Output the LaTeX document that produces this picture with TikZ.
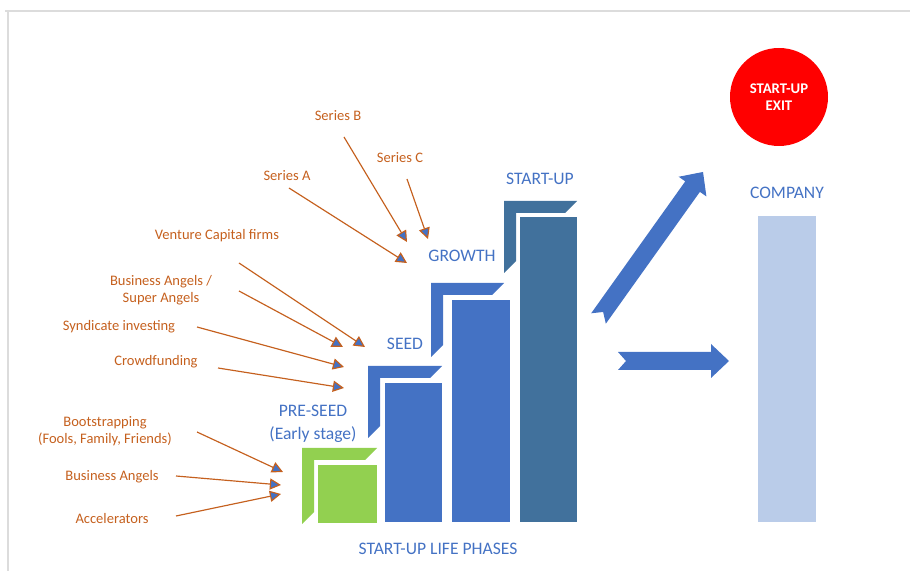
\documentclass[tikz,border=0pt]{standalone}
\usepackage{fontspec}
\setmainfont{Carlito}
\usepackage{xcolor}
\usetikzlibrary{arrows.meta}

\definecolor{fundorange}{RGB}{197,96,30}
\definecolor{phaseblue}{RGB}{68,114,196}
\definecolor{startupblue}{RGB}{65,113,156}
\definecolor{seedgreen}{RGB}{146,208,80}
\definecolor{companyblue}{RGB}{186,204,233}
\definecolor{framegrey}{RGB}{220,220,220}

% half frame in front of every phase column: colour, left, top, width, height
\newcommand{\phasebracket}[5]{%
  \fill[#1] (#2,-#3) -- ++(#4,0) -- ++(-12,-12) -- ({#2+12},{-#3-12})
    -- ({#2+12},{-#3-#5+12}) -- (#2,{-#3-#5}) -- cycle;}

% notched block arrow: tail point, angle, length
\newcommand{\blockarrow}[3]{%
  \begin{scope}[shift={#1}, rotate=#2]
    \fill[phaseblue] (0,9) -- ({#3-18},9) -- ({#3-18},17) -- (#3,0)
      -- ({#3-18},-17) -- ({#3-18},-9) -- (0,-9) -- (8,0) -- cycle;
  \end{scope}}

\begin{document}
\begin{tikzpicture}[x=0.03cm, y=0.03cm]
        % Stijlen
        \tikzstyle{source} = [text=fundorange, font=\fontsize{12.4}{15}\selectfont, align=center, inner sep=0pt]
        \tikzstyle{phase} = [text=phaseblue, font=\fontsize{15}{20}\selectfont, align=center, inner sep=0pt]
        \tikzstyle{feed} = [draw=fundorange, line width=1pt, -{Triangle[fill=phaseblue, length=9.5pt, width=9.5pt]}]

        \useasboundingbox (0,0) rectangle (910,-571);
        \draw[framegrey, line width=1.2pt] (5,-11) -- (910,-11);
        \draw[framegrey, line width=1.2pt] (8,-11) -- (8,-571);

        % Fasen (kolommen)
        \phasebracket{seedgreen}{302}{448}{75}{76}
        \fill[seedgreen] (318,-465) rectangle (377,-523);
        \phasebracket{phaseblue}{368}{366}{74}{72}
        \fill[phaseblue] (385,-383) rectangle (442,-522);
        \phasebracket{phaseblue}{431}{283}{73}{74}
        \fill[phaseblue] (452,-300) rectangle (510,-522);
        \phasebracket{startupblue}{504}{201}{73}{72}
        \fill[startupblue] (520,-217) rectangle (577,-522);

        \fill[companyblue] (758,-216) rectangle (816,-522);
        \node (exit) [circle, fill=red, minimum size=98*0.03cm, inner sep=0pt, text=white, align=center,
            font=\bfseries\fontsize{12.6}{14.5}\selectfont] at (779,-97) {START-UP\\EXIT};

        \blockarrow{(598.5,-318.5)}{54.5}{180}
        \blockarrow{(618,-361)}{0}{111}

        % Labels
        \node (preseed) [phase] at (313,-424) {PRE-SEED\\(Early stage)};
        \node (seed) [phase, anchor=base] at (405,-349.7) {SEED};
        \node (growth) [phase, anchor=base] at (462,-261.7) {GROWTH};
        \node (startup) [phase, anchor=base] at (540,-184.7) {START-UP};
        \node (company) [phase, anchor=base] at (787,-198.7) {COMPANY};
        \node (lifephases) [phase, anchor=base] at (438,-554.7) {START-UP LIFE PHASES};

        \node (seriesb) [source, anchor=base] at (338,-121) {Series B};
        \node (seriesc) [source, anchor=base] at (400,-163) {Series C};
        \node (seriesa) [source, anchor=base] at (287,-181) {Series A};
        \node (vcfirms) [source, anchor=base] at (217,-240) {Venture Capital firms};
        \node (superangels) [source, font=\fontsize{12.4}{14.5}\selectfont] at (161,-290) {Business Angels /\\Super Angels};
        \node (syndicate) [source, anchor=base] at (119,-331) {Syndicate investing};
        \node (crowd) [source, anchor=base] at (156,-366) {Crowdfunding};
        \node (bootstrap) [source] at (105,-431) {Bootstrapping\\(Fools, Family, Friends)};
        \node (bangels) [source, anchor=base] at (112,-481) {Business Angels};
        \node (accel) [source, anchor=base] at (112,-524) {Accelerators};

        % Pijlpunten
        \coordinate (growth-b) at (407,-242);
        \coordinate (growth-c) at (428,-239);
        \coordinate (growth-a) at (407,-263);
        \coordinate (seed-vc) at (365,-347);
        \coordinate (seed-sa) at (343,-347);
        \coordinate (seed-sy) at (344,-367);
        \coordinate (seed-cr) at (344,-388);
        \coordinate (pre-bo) at (283,-472);
        \coordinate (pre-ba) at (281,-485);
        \coordinate (pre-ac) at (281,-494);

        % Pijlen tekenen
        \draw [feed] ([shift={(6,-16)}]seriesb.base) -- (growth-b);
        \draw [feed] ([shift={(7,-16)}]seriesc.base) -- (growth-c);
        \draw [feed] ([shift={(2,-7)}]seriesa.base) -- (growth-a);
        \draw [feed] ([shift={(22,-23)}]vcfirms.base) -- (seed-vc);
        \draw [feed] ([shift={(78,-1)}]superangels.center) -- (seed-sa);
        \draw [feed] ([shift={(78,4)}]syndicate.base) -- (seed-sy);
        \draw [feed] ([shift={(62,-2)}]crowd.base) -- (seed-cr);
        \draw [feed] ([shift={(92,-1)}]bootstrap.center) -- (pre-bo);
        \draw [feed] ([shift={(64,5)}]bangels.base) -- (pre-ba);
        \draw [feed] ([shift={(64,8)}]accel.base) -- (pre-ac);

    \end{tikzpicture}
\end{document}
